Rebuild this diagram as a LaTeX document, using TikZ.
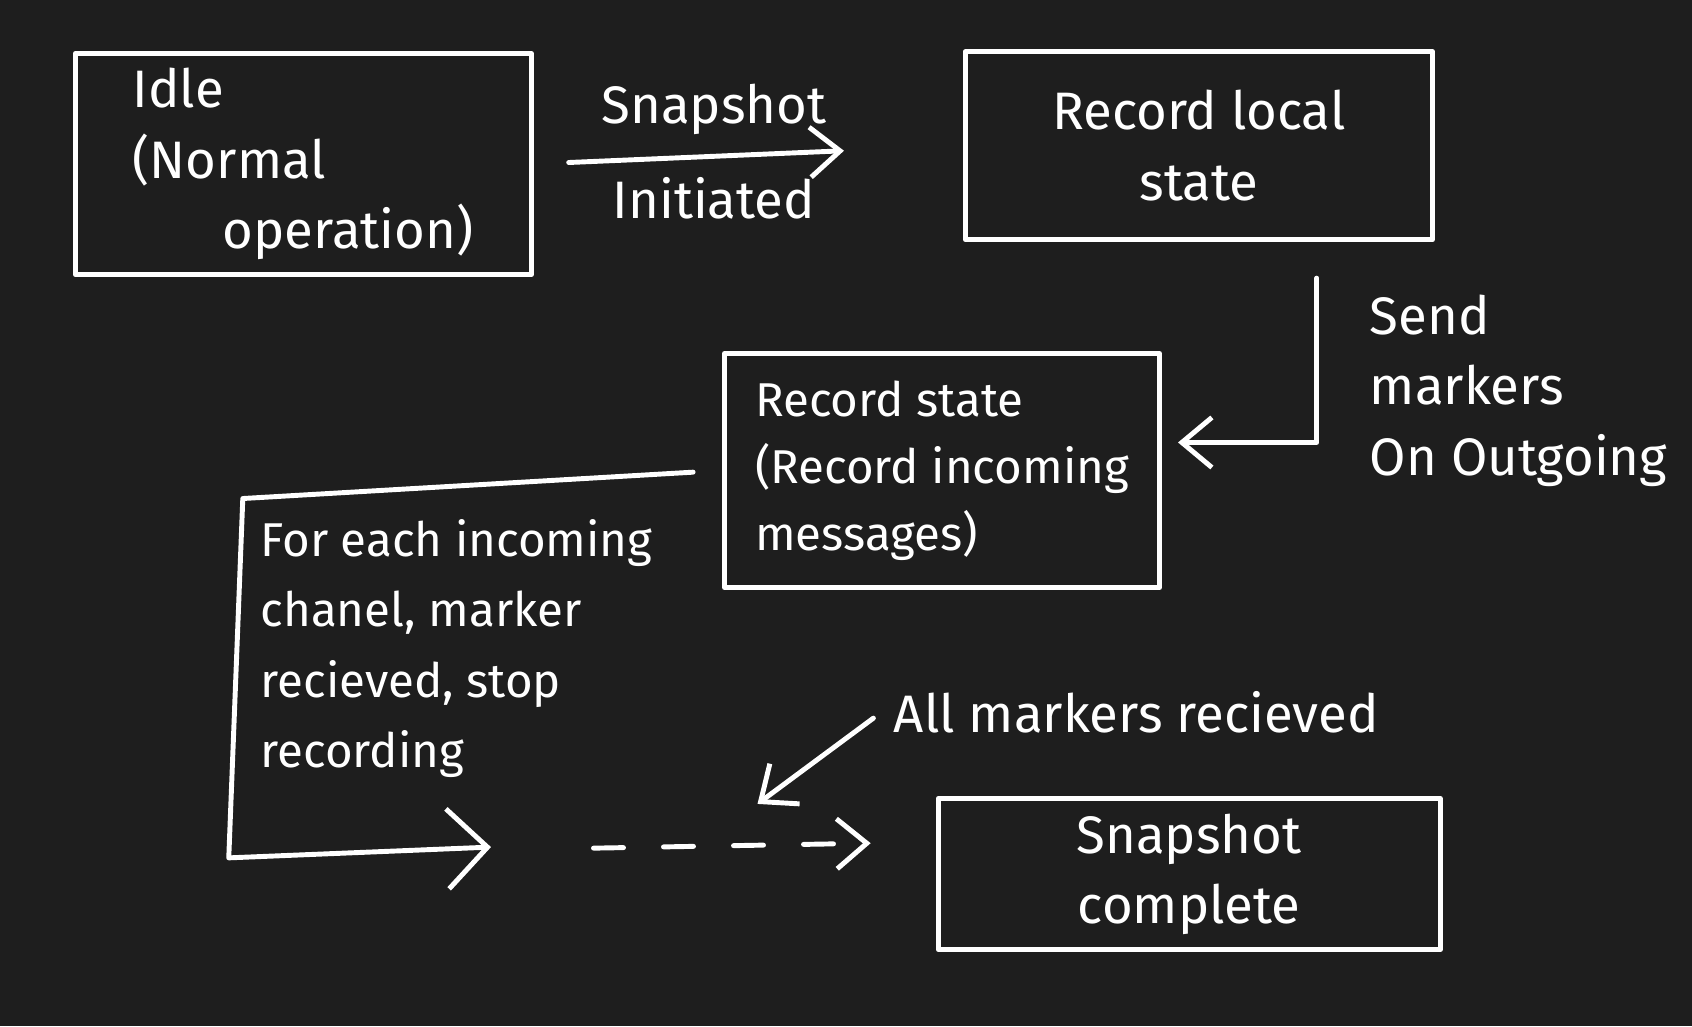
\documentclass[tikz,border=0pt]{standalone}
\usepackage{fontspec}
\setmainfont{Fira Sans}
\usetikzlibrary{arrows.meta,positioning}

\definecolor{board}{RGB}{30,30,30}
\tikzset{
  chalk/.style={draw=white, line width=1.4pt, line cap=round, line join=round},
  statebox/.style={chalk, rectangle, text=white, align=center, font=\fontsize{15}{20}\selectfont},
  note/.style={text=white, align=left, font=\fontsize{15}{20}\selectfont},
  flow/.style={chalk, -{Straight Barb[length=3mm,width=5mm]}},
}

\begin{document}
\begin{tikzpicture}[x=0.1079mm, y=-0.1079mm]
      \useasboundingbox (0,0) rectangle (1568,951);
      \fill[board] (0,0) rectangle (1568,951);
      % states
      \node[statebox, align=left, minimum width=4.56cm, minimum height=2.21cm] (idle) at (281,152)
        {Idle\\(Normal\\\hspace*{9mm}operation)};
      \node[statebox, minimum width=4.67cm, minimum height=1.88cm] (reclocal) at (1111,135)
        {Record local\\state};
      \node[statebox, align=left, minimum width=4.35cm, minimum height=2.34cm,
        font=\fontsize{13.5}{19}\selectfont] (recstate) at (873,436)
        {Record state\\(Record incoming\\messages)};
      \node[statebox, minimum width=5.02cm, minimum height=1.51cm] (done) at (1102,810)
        {Snapshot\\complete};
      % labels
      \node[note, anchor=north west] (send) at (1258,262) {Send\\markers\\On Outgoing};
      \node[note, anchor=north west, font=\fontsize{13.5}{20}\selectfont] (each) at (230,470)
        {For each incoming\\chanel, marker\\recieved, stop\\recording};
      \node[note] (allrec) at (1053,660) {All markers recieved};
      \coordinate (dashfrom) at (550,786);
      \coordinate (allrectip) at (702,745);
      % transitions
      \draw[flow, shorten <=3.5mm, shorten >=11.9mm] (idle.east) -- (reclocal.west)
        node[pos=.42, above=2pt, text=white, font=\fontsize{15}{20}\selectfont] (snapup) {Snapshot}
        node[pos=.42, below=2pt, text=white, font=\fontsize{15}{20}\selectfont] (snapdown) {Initiated};
      \draw[flow, shorten >=1.6mm] ([xshift=11.8mm, yshift=-3.6mm]reclocal.south) |- ([yshift=2.8mm]recstate.east);
      \draw[chalk, shorten <=2.9mm, -{Straight Barb[length=4mm,width=8mm]}]
        (recstate.west) -- (225,462) -- (212,795) -- (455,785) coordinate (loopend);
      \draw[flow, dash pattern=on 3mm off 4mm, shorten >=6.5mm] (dashfrom) -- ([yshift=3.2mm]done.west);
      \draw[flow, shorten <=1mm] (allrec.west) -- (allrectip);
    \end{tikzpicture}
\end{document}
